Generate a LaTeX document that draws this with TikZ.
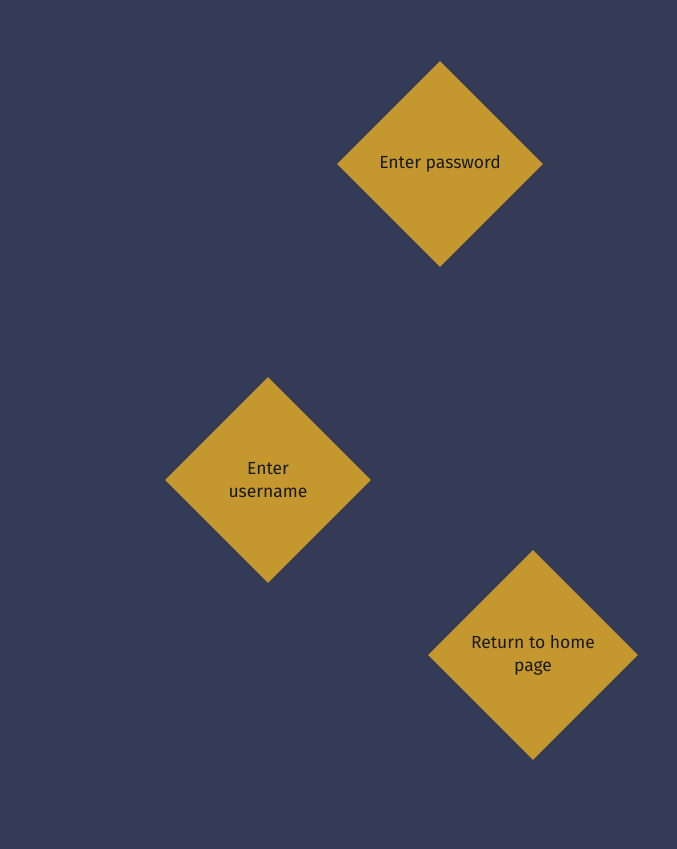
\documentclass[tikz,border=0pt]{standalone}
\usepackage{fontspec}
\setmainfont{Fira Sans}
\usetikzlibrary{shapes.geometric}
\definecolor{navy}{HTML}{343B57}
\definecolor{gold}{HTML}{C4972F}
\definecolor{ink}{HTML}{1A1A1A}
\tikzset{
	stepdiamond/.style={diamond, aspect=1, fill=gold, draw=none, inner sep=0pt,
		minimum width=#1, minimum height=#1, align=center, text=ink,
		font=\fontsize{17.5}{23}\selectfont},
	stepdiamond/.default=206pt
}
\begin{document}
\begin{tikzpicture}
% 1pt = 1px of the 677x849 page
[x=1pt,y=-1pt]
\fill[navy] (0,0) rectangle (677,849);
\useasboundingbox (0,0) rectangle (677,849);
\foreach \name/\x/\y/\s/\txt in {pass/440/164/206pt/{Enter password}, user/268/480/206pt/{Enter\\username}, home/533/655/210pt/{Return to home\\page}}{
	\node[stepdiamond=\s] (\name) at (\x,\y) {\txt};
	}
%\draw[step=50, thin, white] (0,0) grid (677,849);
\end{tikzpicture}
\end{document}
